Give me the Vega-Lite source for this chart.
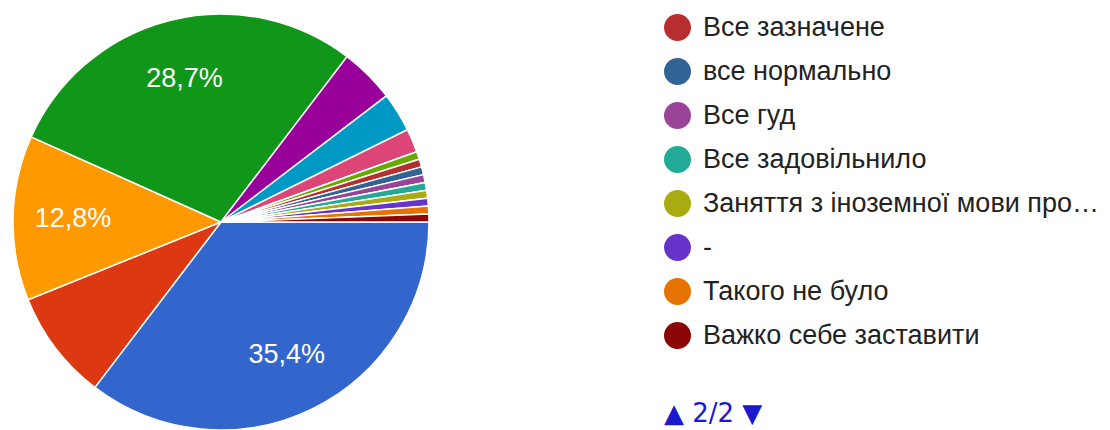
{
  "$schema": "https://vega.github.io/schema/vega-lite/v6.json",
  "width": 416,
  "height": 444,
  "padding": {"left": 10, "top": 0, "right": 0, "bottom": 0},
  "config": {"view": {"stroke": null}, "font": "Liberation Sans"},
  "data": {
    "values": [
      {"i": 1, "answer": "Варіант 1", "n": 58, "label": "35,4%"},
      {"i": 2, "answer": "Варіант 2", "n": 14, "label": ""},
      {"i": 3, "answer": "Варіант 3", "n": 21, "label": "12,8%"},
      {"i": 4, "answer": "Варіант 4", "n": 47, "label": "28,7%"},
      {"i": 5, "answer": "Варіант 5", "n": 7, "label": ""},
      {"i": 6, "answer": "Варіант 6", "n": 5, "label": ""},
      {"i": 7, "answer": "Варіант 7", "n": 3, "label": ""},
      {"i": 8, "answer": "Варіант 8", "n": 1, "label": ""},
      {"i": 9, "answer": "Все зазначене", "n": 1, "label": ""},
      {"i": 10, "answer": "все нормально", "n": 1, "label": ""},
      {"i": 11, "answer": "Все гуд", "n": 1, "label": ""},
      {"i": 12, "answer": "Все задовільнило", "n": 1, "label": ""},
      {"i": 13, "answer": "Заняття з іноземної мови про…", "n": 1, "label": ""},
      {"i": 14, "answer": "-", "n": 1, "label": ""},
      {"i": 15, "answer": "Такого не було", "n": 1, "label": ""},
      {"i": 16, "answer": "Важко себе заставити", "n": 1, "label": ""}
    ]
  },
  "encoding": {
    "theta": {"field": "n", "type": "quantitative", "stack": true, "scale": {"range": [1.5708, 7.854]}},
    "order": {"field": "i", "type": "quantitative"}
  },
  "layer": [
    {
      "mark": {"type": "arc", "outerRadius": 208, "stroke": "white", "strokeWidth": 1.5},
      "encoding": {
        "color": {
          "field": "answer",
          "type": "nominal",
          "scale": {
            "domain": ["Варіант 1", "Варіант 2", "Варіант 3", "Варіант 4", "Варіант 5", "Варіант 6", "Варіант 7", "Варіант 8", "Все зазначене", "все нормально", "Все гуд", "Все задовільнило", "Заняття з іноземної мови про…", "-", "Такого не було", "Важко себе заставити"],
            "range": ["#3366cc", "#dc3912", "#ff9900", "#109618", "#990099", "#0099c6", "#dd4477", "#66aa00", "#b82e2e", "#316395", "#994499", "#22aa99", "#aaaa11", "#6633cc", "#e67300", "#8b0707"]
          },
          "legend": {
            "values": ["Все зазначене", "все нормально", "Все гуд", "Все задовільнило", "Заняття з іноземної мови про…", "-", "Такого не було", "Важко себе заставити"],
            "orient": "none",
            "legendX": 651,
            "legendY": 14,
            "padding": 0,
            "symbolType": "circle",
            "symbolSize": 729,
            "symbolStrokeWidth": 0,
            "symbolOpacity": 1,
            "labelFontSize": 27,
            "labelColor": "#222222",
            "labelOffset": 12,
            "labelLimit": 600,
            "rowPadding": 16,
            "title": "▲ 2/2 ▼",
            "titleOrient": "bottom",
            "titleFont": "DejaVu Sans",
            "titleFontSize": 26,
            "titleFontWeight": "normal",
            "titleColor": "#1a1acc",
            "titlePadding": 52
          }
        }
      }
    },
    {
      "mark": {"type": "text", "radius": 148, "fill": "white", "fontSize": 27},
      "encoding": {"text": {"field": "label", "type": "nominal"}}
    }
  ]
}
